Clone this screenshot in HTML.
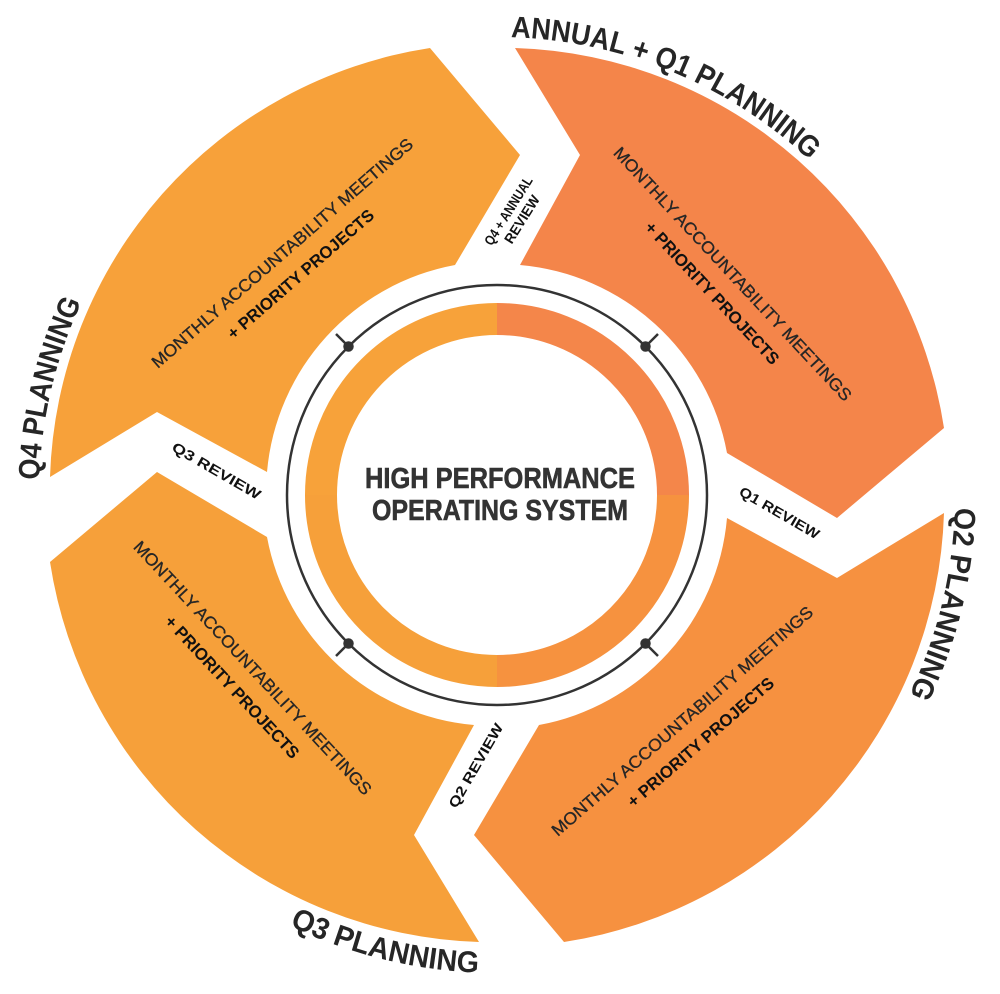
<!DOCTYPE html>
<html><head><meta charset="utf-8"><style>
html,body{margin:0;padding:0;background:#fff;}
svg{display:block;}
text{font-family:"Liberation Sans",sans-serif;}
</style></head><body>
<svg width="1000" height="994" viewBox="0 0 1000 994" xmlns="http://www.w3.org/2000/svg">
<defs>
<path id="seg" d="M18,-447 A448,448 0 0 1 447,-67 L340,23 L230,-42 A231,231 0 0 0 23,-230 L83,-340 Z"/>
<path id="cw" d="M497,37 A458,458 0 1 1 497,953 A458,458 0 1 1 497,37"/>
<path id="ccw" d="M19,495 A478,478 0 0 0 975,495"/>
</defs>
<g transform="translate(497,495)">
  <use href="#seg" fill="#F4854A"/>
  <use href="#seg" fill="#F69140" transform="rotate(90)"/>
  <use href="#seg" fill="#F6A03A" transform="rotate(180)"/>
  <use href="#seg" fill="#F7A13A" transform="rotate(270)"/>
  <g fill="none" stroke-width="32">
    <path d="M0,-176 A176,176 0 0 1 176,0" stroke="#F4864A"/>
    <path d="M176,0 A176,176 0 0 1 0,176" stroke="#F6923F"/>
    <path d="M0,176 A176,176 0 0 1 -176,0" stroke="#F6A03A"/>
    <path d="M-176,0 A176,176 0 0 1 0,-176" stroke="#F7A23A"/>
  </g>
  <circle r="210" fill="none" stroke="#333" stroke-width="2.5"/>
  <g stroke="#333" stroke-width="2.5" fill="#333">
    <line x1="148.5" y1="-148.5" x2="161" y2="-161"/><circle cx="148.5" cy="-148.5" r="4"/>
    <line x1="148.5" y1="148.5" x2="161" y2="161"/><circle cx="148.5" cy="148.5" r="4"/>
    <line x1="-148.5" y1="148.5" x2="-161" y2="161"/><circle cx="-148.5" cy="148.5" r="4"/>
    <line x1="-148.5" y1="-148.5" x2="-161" y2="-161"/><circle cx="-148.5" cy="-148.5" r="4"/>
  </g>
</g>
<text x="500" y="488" font-size="29" font-weight="bold" fill="#333" stroke="#333" stroke-width="0.6" text-anchor="middle" textLength="270" lengthAdjust="spacingAndGlyphs">HIGH PERFORMANCE</text>
<text x="500" y="520" font-size="29" font-weight="bold" fill="#333" stroke="#333" stroke-width="0.6" text-anchor="middle" textLength="256" lengthAdjust="spacingAndGlyphs">OPERATING SYSTEM</text>

<g transform="translate(724,282) rotate(47)">
  <text x="0" y="-6" font-size="17" fill="#262626" stroke="#262626" stroke-width="0.3" text-anchor="middle" textLength="340" lengthAdjust="spacingAndGlyphs">MONTHLY ACCOUNTABILITY MEETINGS</text>
  <text x="0" y="22" font-size="17" font-weight="bold" fill="#111" text-anchor="middle" textLength="188" lengthAdjust="spacingAndGlyphs">+ PRIORITY PROJECTS</text>
</g>
<g transform="translate(290,262) rotate(-41)">
  <text x="0" y="-6" font-size="17" fill="#262626" stroke="#262626" stroke-width="0.3" text-anchor="middle" textLength="340" lengthAdjust="spacingAndGlyphs">MONTHLY ACCOUNTABILITY MEETINGS</text>
  <text x="0" y="22" font-size="17" font-weight="bold" fill="#111" text-anchor="middle" textLength="188" lengthAdjust="spacingAndGlyphs">+ PRIORITY PROJECTS</text>
</g>
<g transform="translate(690,730) rotate(-41)">
  <text x="0" y="-6" font-size="17" fill="#262626" stroke="#262626" stroke-width="0.3" text-anchor="middle" textLength="340" lengthAdjust="spacingAndGlyphs">MONTHLY ACCOUNTABILITY MEETINGS</text>
  <text x="0" y="22" font-size="17" font-weight="bold" fill="#111" text-anchor="middle" textLength="188" lengthAdjust="spacingAndGlyphs">+ PRIORITY PROJECTS</text>
</g>
<g transform="translate(244,676) rotate(47)">
  <text x="0" y="-6" font-size="17" fill="#262626" stroke="#262626" stroke-width="0.3" text-anchor="middle" textLength="340" lengthAdjust="spacingAndGlyphs">MONTHLY ACCOUNTABILITY MEETINGS</text>
  <text x="0" y="22" font-size="17" font-weight="bold" fill="#111" text-anchor="middle" textLength="188" lengthAdjust="spacingAndGlyphs">+ PRIORITY PROJECTS</text>
</g>

<g font-size="14" font-weight="bold" fill="#111" text-anchor="middle">
  <g transform="translate(515,215) rotate(-58)">
    <text x="0" y="-3" textLength="78" lengthAdjust="spacingAndGlyphs">Q4 + ANNUAL</text>
    <text x="0" y="13" textLength="54" lengthAdjust="spacingAndGlyphs">REVIEW</text>
  </g>
  <text transform="translate(777,517) rotate(30)" textLength="90" lengthAdjust="spacingAndGlyphs">Q1 REVIEW</text>
  <text transform="translate(480,768) rotate(-60)" textLength="95" lengthAdjust="spacingAndGlyphs">Q2 REVIEW</text>
  <text transform="translate(214,475) rotate(30)" textLength="100" lengthAdjust="spacingAndGlyphs">Q3 REVIEW</text>
</g>

<g font-size="30" font-weight="bold" fill="#262626">
  <text><textPath href="#cw" startOffset="14" textLength="330" lengthAdjust="spacingAndGlyphs">ANNUAL + Q1 PLANNING</textPath></text>
  <text><textPath href="#cw" startOffset="732" textLength="194" lengthAdjust="spacingAndGlyphs">Q2 PLANNING</textPath></text>
  <text><textPath href="#cw" startOffset="2173" textLength="184" lengthAdjust="spacingAndGlyphs">Q4 PLANNING</textPath></text>
  <text><textPath href="#ccw" startOffset="536" textLength="196" lengthAdjust="spacingAndGlyphs">Q3 PLANNING</textPath></text>
</g>
</svg>
</body></html>
